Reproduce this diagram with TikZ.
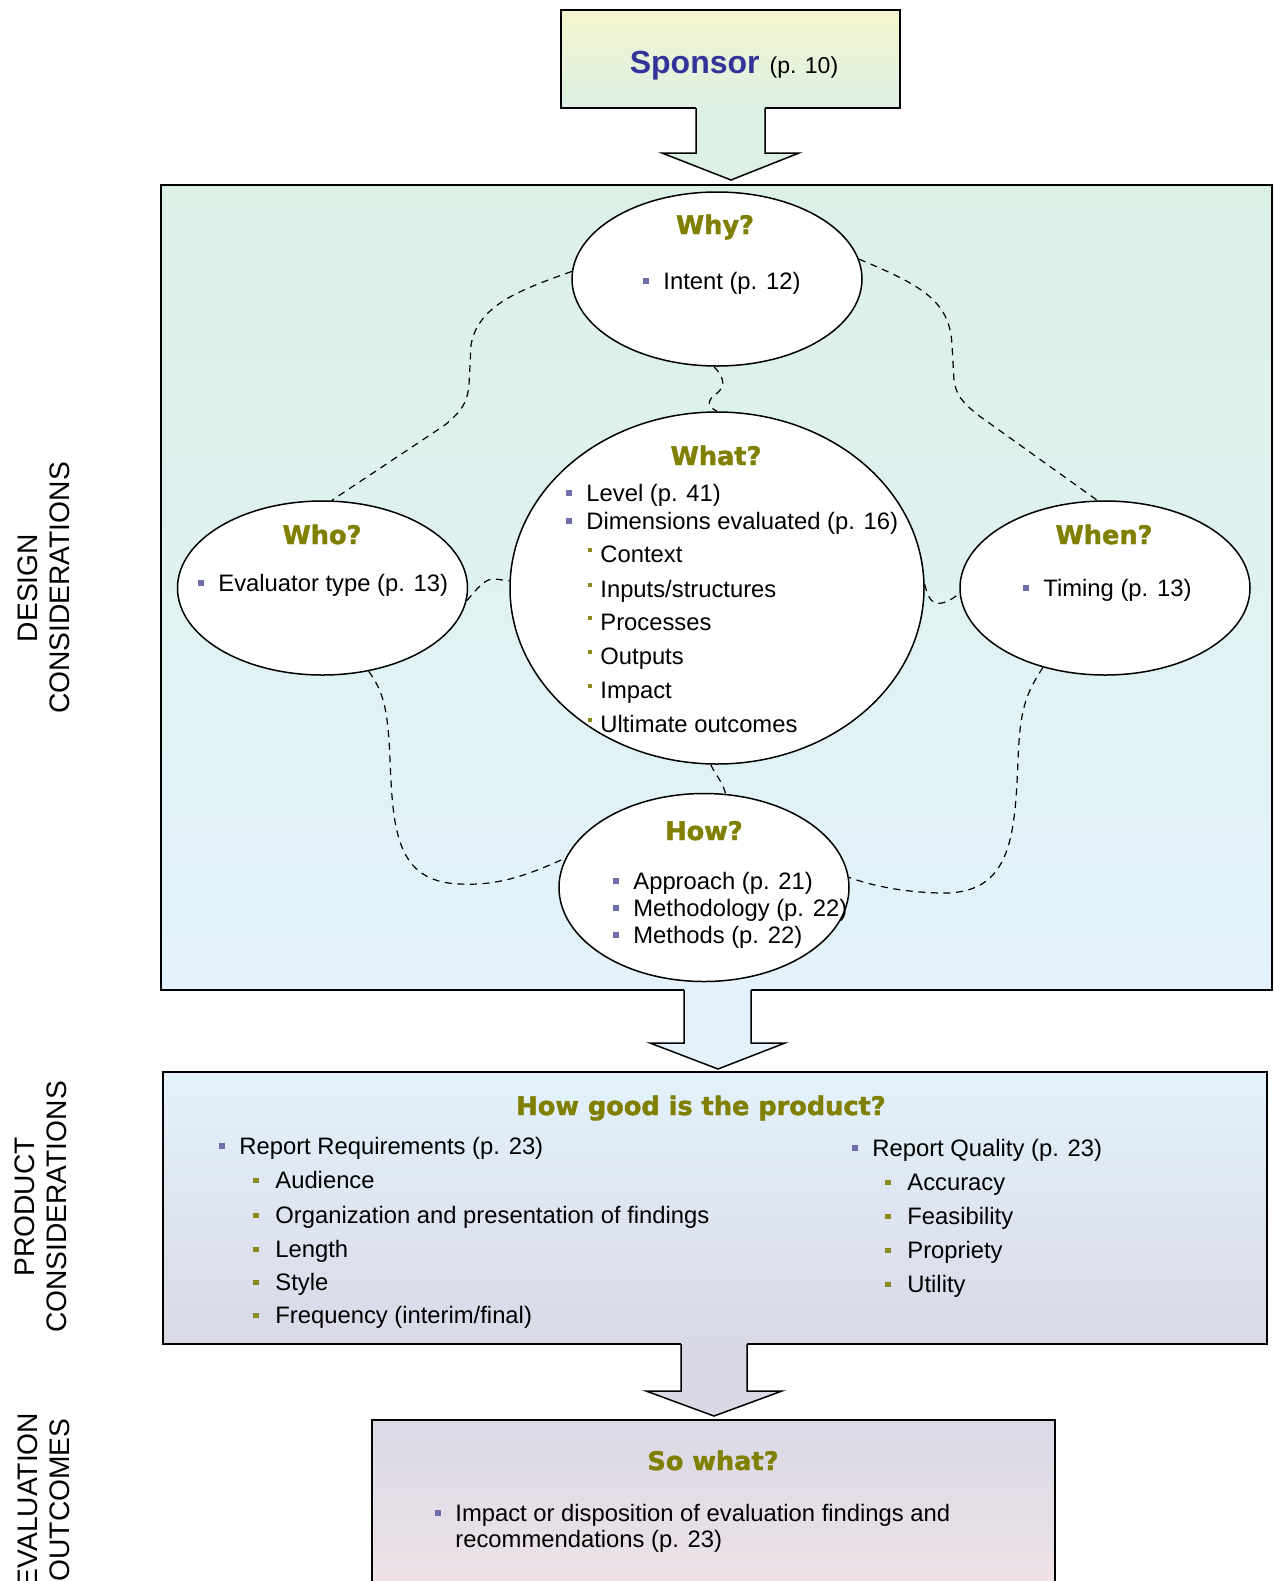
\documentclass[tikz,border=0pt]{standalone}
\usepackage{fontspec}
\setmainfont{Liberation Sans}
\newfontfamily\hfont{DejaVu Sans}[BoldFeatures={FakeBold=1.6}]
\usetikzlibrary{shapes.geometric}
\definecolor{spTop}{HTML}{F5F5CE}
\definecolor{spBot}{HTML}{DCF0E4}
\definecolor{dsTop}{HTML}{DCF1E6}
\definecolor{dsBot}{HTML}{E3F2FC}
\definecolor{prTop}{HTML}{E3F2FC}
\definecolor{prBot}{HTML}{D9D9E6}
\definecolor{swTop}{HTML}{D9D9E6}
\definecolor{swBot}{HTML}{F2E4E8}
\definecolor{headOlive}{HTML}{808000}
\definecolor{spBlue}{HTML}{333399}
\definecolor{bulBlue}{HTML}{6E6EAA}
\definecolor{bulOlive}{HTML}{8C8C1E}
\newcommand\bulA{\textcolor{bulBlue}{\rule[2.5pt]{3pt}{3pt}}\hspace{7pt}}
\newcommand\bulS{\textcolor{bulOlive}{\rule[5pt]{2pt}{2pt}}\hspace{4pt}}
\newcommand\bulP{\textcolor{bulOlive}{\rule[2.3pt]{2.7pt}{2.7pt}}\hspace{8.3pt}}
\tikzset{
  panel/.style={draw=black, line width=0.75pt, rectangle, inner sep=0pt},
  oval/.style={draw=black, line width=0.75pt, ellipse, fill=white, inner sep=0pt},
  dashlink/.style={draw=black, line width=0.6pt, dash pattern=on 3.5pt off 2.8pt},
  heading/.style={font=\hfont\bfseries\fontsize{12.8pt}{15pt}\selectfont, text=headOlive, anchor=base, inner sep=0pt},
  txt/.style={font=\fontsize{11.9pt}{14pt}\selectfont, anchor=base west, inner sep=0pt},
  sidelabel/.style={font=\fontsize{14.1pt}{16pt}\selectfont, rotate=90, align=center, inner sep=0pt},
  arrowline/.style={draw=black, line width=0.75pt, line join=miter}
}
\begin{document}
\begin{tikzpicture}[x=0.5pt,y=-0.5pt]
\useasboundingbox (0,0) rectangle (1274,1581);

% side labels
\node[sidelabel] (lblDesign) at (44,588) {DESIGN\\CONSIDERATIONS};
\node[sidelabel] (lblProduct) at (41,1207) {PRODUCT\\CONSIDERATIONS};
\node[sidelabel] (lblOutcome) at (44,1500) {EVALUATION\\OUTCOMES};

% panels
\node[panel, top color=spTop, bottom color=spBot, minimum width=169.5pt, minimum height=49pt] (sponsor) at (730.5,59) {};
\node[panel, top color=dsTop, bottom color=dsBot, minimum width=555.5pt, minimum height=402.5pt] (design) at (716.5,587.5) {};
\node[panel, top color=prTop, bottom color=prBot, minimum width=552pt, minimum height=136pt] (product) at (715,1208) {};
\node[panel, top color=swTop, bottom color=swBot, minimum width=341.5pt, minimum height=95pt] (sowhat) at (713.5,1515) {};

% block arrows
\fill[spBot] (696,106.5) -- (696,153) -- (662,153) -- (731,180) -- (799,153) -- (765,153) -- (765,106.5) -- cycle;
\draw[arrowline] (696,108) -- (696,153) -- (662,153) -- (731,180) -- (799,153) -- (765,153) -- (765,108);
\fill[dsBot] (684,988.5) -- (684,1043) -- (650,1043) -- (718,1069) -- (785,1043) -- (751,1043) -- (751,988.5) -- cycle;
\draw[arrowline] (684,990) -- (684,1043) -- (650,1043) -- (718,1069) -- (785,1043) -- (751,1043) -- (751,990);
\fill[prBot] (681,1342.5) -- (681,1391) -- (646,1391) -- (714,1416) -- (782,1391) -- (747,1391) -- (747,1342.5) -- cycle;
\draw[arrowline] (681,1344) -- (681,1391) -- (646,1391) -- (714,1416) -- (782,1391) -- (747,1391) -- (747,1344);

% sponsor text
\node[anchor=base, inner sep=0pt] (sponsorT) at (734,73) {\textcolor{spBlue}{\fontsize{16pt}{18pt}\selectfont\bfseries Sponsor}\hspace{5pt}{\fontsize{11.5pt}{13pt}\selectfont (p. 10)}};

% ellipses
\node[oval, minimum width=145pt, minimum height=87pt] (why) at (717,279) {};
\node[oval, minimum width=207pt, minimum height=176pt] (what) at (717,588) {};
\node[oval, minimum width=145pt, minimum height=87pt] (who) at (322.5,588) {};
\node[oval, minimum width=145pt, minimum height=87pt] (when) at (1105,588) {};
\node[oval, minimum width=145pt, minimum height=94pt] (how) at (704,887.5) {};

% dashed links
\draw[dashlink] (why.177) .. controls (520,290) and (478,305) .. (471,345) -- (469,385) .. controls (467,405) and (460,412) .. (445,425) -- (who.84);
\draw[dashlink] (why.8) .. controls (920,285) and (950,300) .. (952,345) -- (954,380) .. controls (956,395) and (962,402) .. (978,415) -- (when.95);
\draw[dashlink] (why.268) .. controls (722,375) and (728,385) .. (716,394) .. controls (706,401) and (708,407) .. (what.90);
\draw[dashlink] (who.-5) .. controls (478,588) and (485,578) .. (495,579) -- (what.178);
\draw[dashlink] (what.1) .. controls (928,598) and (932,605) .. (942,603) .. controls (950,601) and (955,597) .. (when.182);
\draw[dashlink] (what.268) .. controls (715,775) and (722,780) .. (how.77);
\draw[dashlink] (who.-61) .. controls (382,690) and (388,705) .. (390,760) .. controls (393,830) and (396,882) .. (460,884) .. controls (500,886) and (530,874) .. (how.168);
\draw[dashlink] (when.-128) .. controls (1025,695) and (1020,710) .. (1018,760) .. controls (1015,840) and (1010,895) .. (940,893) .. controls (900,892) and (870,885) .. (how.4);

% Why
\node[heading] (whyH) at (715,234) {Why?};
\node[txt] (whyA) at (643,289) {\bulA Intent (p. 12)};
% What
\node[heading] (whatH) at (716,465) {What?};
\node[txt] (whatA) at (566,501) {\bulA Level (p. 41)};
\node[txt] (whatB) at (566,529) {\bulA Dimensions evaluated (p. 16)};
\node[txt] (whatC) at (588,562) {\bulS Context};
\node[txt] (whatD) at (588,597) {\bulS Inputs/structures};
\node[txt] (whatE) at (588,630) {\bulS Processes};
\node[txt] (whatF) at (588,664) {\bulS Outputs};
\node[txt] (whatG) at (588,698) {\bulS Impact};
\node[txt] (whatI) at (588,732) {\bulS Ultimate outcomes};
% Who
\node[heading] (whoH) at (322,544) {Who?};
\node[txt] (whoA) at (198,591) {\bulA Evaluator type (p. 13)};
% When
\node[heading] (whenH) at (1104,544) {When?};
\node[txt] (whenA) at (1023,596) {\bulA Timing (p. 13)};
% How
\node[heading] (howH) at (704,840) {How?};
\node[txt] (howA) at (613,889) {\bulA Approach (p. 21)};
\node[txt] (howB) at (613,916) {\bulA Methodology (p. 22)};
\node[txt] (howC) at (613,943) {\bulA Methods (p. 22)};

% Product
\node[heading] (prodH) at (701,1115) {How good is the product?};
\node[txt] (prL0) at (219,1154) {\bulA Report Requirements (p. 23)};
\node[txt] (prL1) at (253,1188) {\bulP Audience};
\node[txt] (prL2) at (253,1223) {\bulP Organization and presentation of findings};
\node[txt] (prL3) at (253,1257) {\bulP Length};
\node[txt] (prL4) at (253,1290) {\bulP Style};
\node[txt] (prL5) at (253,1323) {\bulP Frequency (interim/final)};
\node[txt] (prR0) at (852,1156) {\bulA Report Quality (p. 23)};
\node[txt] (prR1) at (885,1190) {\bulP Accuracy};
\node[txt] (prR2) at (885,1224) {\bulP Feasibility};
\node[txt] (prR3) at (885,1258) {\bulP Propriety};
\node[txt] (prR4) at (885,1292) {\bulP Utility};

% So what
\node[heading] (swH) at (713,1470) {So what?};
\node[txt] (swA) at (435,1521) {\bulA Impact or disposition of evaluation findings and};
\node[txt] (swB) at (455,1547) {recommendations (p. 23)};
\end{tikzpicture}
\end{document}
